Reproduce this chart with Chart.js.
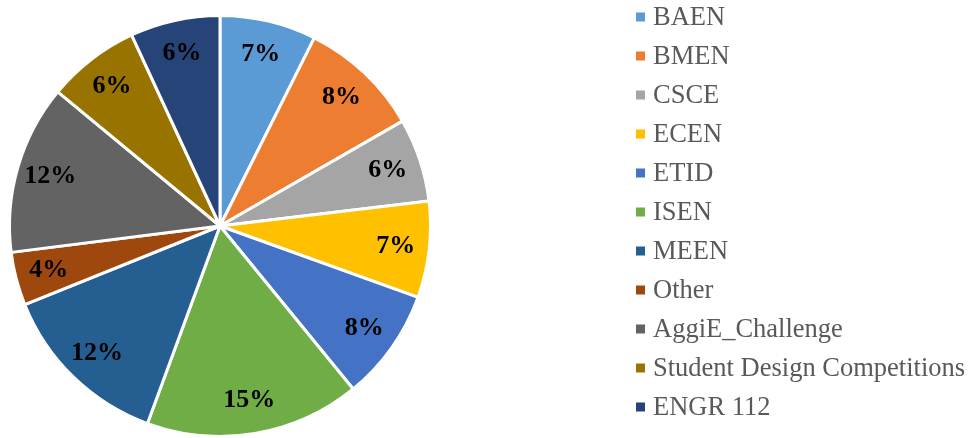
<!DOCTYPE html>
<html>
<head>
<meta charset="utf-8">
<script src="https://cdn.jsdelivr.net/npm/chart.js@4"></script>
<style>
  html, body { margin: 0; padding: 0; background: #fff; }
  #wrap { width: 970px; height: 438px; }
</style>
</head>
<body>
<div id="wrap"><canvas id="pieChart" width="970" height="438"></canvas></div>
<script>
const categories = ['BAEN', 'BMEN', 'CSCE', 'ECEN', 'ETID', 'ISEN', 'MEEN', 'Other',
    'AggiE_Challenge', 'Student Design Competitions', 'ENGR 112'];
const shares = [7.4, 9.3, 6.4, 7.4, 8.6, 16.5, 13.3, 4.1, 13.0, 7.1, 6.9];
const pctLabels = ['7%', '8%', '6%', '7%', '8%', '15%', '12%', '4%', '12%', '6%', '6%'];
const colors = ['#5B9BD5', '#ED7D31', '#A5A5A5', '#FFC000', '#4472C4', '#70AD47',
    '#255E91', '#9E480E', '#636363', '#997300', '#264478'];

// percent text inside each slice
const sliceLabels = {
    id: 'sliceLabels',
    afterDatasetsDraw(chart) {
        const ctx = chart.ctx;
        const meta = chart.getDatasetMeta(0);
        ctx.save();
        ctx.font = 'bold 26px "Liberation Serif", "Times New Roman", serif';
        ctx.fillStyle = '#000';
        ctx.textAlign = 'center';
        ctx.textBaseline = 'middle';
        meta.data.forEach(function(arc, i) {
            const p = arc.getProps(['x', 'y', 'startAngle', 'endAngle', 'outerRadius'], true);
            const mid = (p.startAngle + p.endAngle) / 2;
            const r = p.outerRadius * 0.84;
            ctx.fillText(pctLabels[i], p.x + Math.cos(mid) * r, p.y + Math.sin(mid) * r);
        });
        ctx.restore();
    }
};

// legend column on the right
const sideLegend = {
    id: 'sideLegend',
    afterDraw(chart) {
        const ctx = chart.ctx;
        const x0 = 636, y0 = 17, step = 39;
        ctx.save();
        ctx.font = '26.5px "Liberation Serif", "Times New Roman", serif';
        ctx.textBaseline = 'middle';
        chart.data.labels.forEach(function(label, i) {
            const y = y0 + i * step;
            ctx.fillStyle = chart.data.datasets[0].backgroundColor[i];
            ctx.fillRect(x0, y - 4.5, 9, 9);
            ctx.fillStyle = '#595959';
            ctx.fillText(label, x0 + 17, y + 1);
        });
        ctx.restore();
    }
};

const ctx1 = document.getElementById('pieChart').getContext('2d');
const pieChart = new Chart(ctx1, {
    type: 'pie',
    data: {
        labels: categories,
        datasets: [{
            data: shares,
            backgroundColor: colors,
            borderColor: '#ffffff',
            borderWidth: 3
        }]
    },
    options: {
        responsive: false,
        animation: false,
        layout: { padding: { left: 7, right: 537, top: 14, bottom: 0 } },
        plugins: {
            legend: { display: false },
            tooltip: { enabled: false }
        }
    },
    plugins: [sliceLabels, sideLegend]
});
</script>
</body>
</html>
